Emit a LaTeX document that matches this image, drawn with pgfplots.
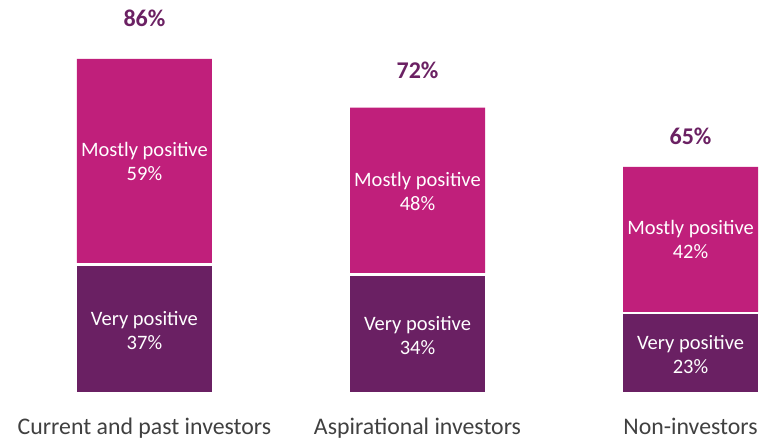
\documentclass[border=0pt]{standalone}
\usepackage{pgfplots}
\pgfplotsset{compat=1.18}
\usepackage{pgfplotstable}
\usepackage{fontspec}
\setmainfont{Carlito}
\definecolor{pinkc}{RGB}{192,31,123}
\definecolor{darkc}{RGB}{106,32,99}
\definecolor{totc}{RGB}{107,33,99}
\definecolor{catc}{RGB}{64,64,64}
\pgfplotstableread{
x very mostly top total vmid mmid ly
0 37 59 96 86 18.5 66.5 107.8
1 34 48 82 72 17 58 92.8
2 23 42 65 65 11.5 44 73.9
}\data
\begin{document}
\begin{tikzpicture}
\begin{axis}[
  scale only axis,
  width=761bp, height=393bp,
  xmin=-0.529, xmax=2.258,
  ymin=0, ymax=112.9,
  clip=false,
  axis line style={draw=none},
  ytick=\empty,
  xtick={0,1,2},
  xticklabels={Current and past investors,Aspirational investors,Non-investors},
  major tick length=0pt,
  xticklabel style={font=\fontsize{23.8bp}{28bp}\selectfont, text=catc, anchor=base, yshift=-41bp},
  /pgf/number format/assume math mode=true,
]
\addplot[ybar, bar shift=0pt, bar width=135bp, fill=pinkc, draw=none] table[x=x, y=top] {\data};
\addplot[ybar, bar shift=0pt, bar width=137.5bp, fill=darkc, draw=white, line width=2.5bp] table[x=x, y=very] {\data};
\addplot[draw=none, mark=none, point meta=explicit,
  nodes near coords={Very positive\\\pgfmathprintnumber{\pgfplotspointmeta}\%},
  every node near coord/.style={anchor=center, align=center, text=white, font=\fontsize{20.5bp}{24bp}\selectfont, yshift=-1.5bp}]
  table[x=x, y=vmid, meta=very] {\data};
\addplot[draw=none, mark=none, point meta=explicit,
  nodes near coords={Mostly positive\\\pgfmathprintnumber{\pgfplotspointmeta}\%},
  every node near coord/.style={anchor=center, align=center, text=white, font=\fontsize{20.5bp}{24bp}\selectfont}]
  table[x=x, y=mmid, meta=mostly] {\data};
\addplot[draw=none, mark=none, point meta=explicit,
  nodes near coords={\pgfmathprintnumber{\pgfplotspointmeta}\%},
  every node near coord/.style={anchor=center, text=totc, font=\bfseries\fontsize{24bp}{28bp}\selectfont}]
  table[x=x, y=ly, meta=total] {\data};
\path[draw=none] (rel axis cs:0,-0.1196) rectangle (rel axis cs:1,1);
\end{axis}
\end{tikzpicture}
\end{document}
